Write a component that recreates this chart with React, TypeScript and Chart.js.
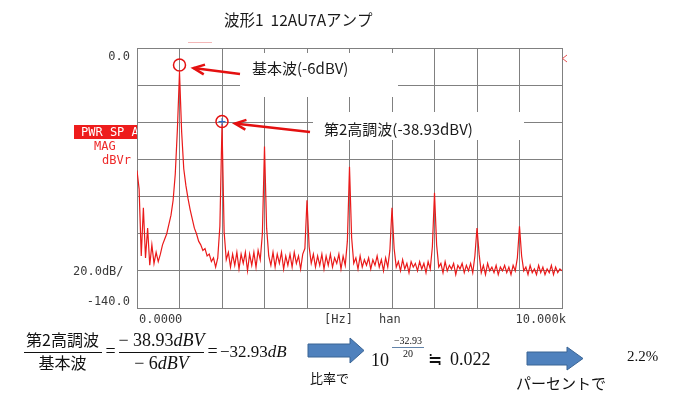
import React, { useEffect, useRef } from 'react';
import { Chart, registerables } from 'chart.js';

Chart.register(...registerables);

// ---- data ----
const binHz = 50; // spectrum bin spacing (Hz)
const levelsDb = [
  -66, -76, -112, -86, -113, -97, -117, -106, -116, -110,
  -115, -111, -106, -103, -100, -95, -90, -82, -68, -44,
  -13, -45, -65, -74, -81, -87, -92, -97, -100, -104,
  -106, -109, -108, -112, -111, -115, -113, -118, -113, -96,
  -41, -99, -114, -110, -118, -111, -117, -110, -119, -111,
  -116, -110, -120, -111, -117, -110, -118, -109, -114, -100,
  -53, -97, -112, -117, -110, -118, -111, -116, -110, -119,
  -112, -117, -111, -118, -110, -116, -112, -119, -111, -108,
  -82, -107, -116, -111, -118, -112, -117, -111, -119, -112,
  -117, -111, -118, -113, -116, -111, -119, -112, -117, -104,
  -64, -102, -116, -113, -119, -112, -118, -114, -117, -113,
  -119, -114, -117, -112, -118, -114, -120, -113, -118, -109,
  -86, -108, -118, -115, -120, -114, -119, -116, -121, -115,
  -118, -116, -120, -115, -119, -116, -121, -115, -119, -107,
  -78, -106, -118, -116, -121, -115, -120, -117, -119, -116,
  -122, -117, -119, -116, -121, -117, -120, -116, -121, -112,
  -97, -111, -121, -117, -122, -116, -120, -118, -121, -117,
  -122, -118, -120, -117, -121, -118, -122, -117, -120, -113,
  -96, -112, -120, -118, -122, -117, -121, -119, -122, -117,
  -121, -118, -122, -119, -121, -117, -122, -118, -121, -119,
  -120,
];
const freqMinHz = 0;
const freqMaxHz = 10000;
const freqStepHz = 1000;
const dbMin = -140;
const dbMax = 0;
const dbStep = 20;

const titleText = '波形1  12AU7Aアンプ';
const yLabelTop = '0.0';
const yLabelScale = '20.0dB/';
const yLabelBottom = '-140.0';
const xLabels = ['0.0000', '[Hz]', 'han', '10.000k'];
const modeLabels = ['PWR SP A', 'MAG', 'dBVr'];

const markerFreqHz = [1000, 2000];
const markerCircleDb = [-9.2, -39.6];
const markerTexts = ['基本波(-6dBV)', '第2高調波(-38.93dBV)'];

const MONO = '12px "DejaVu Sans Mono", monospace';
const JP = '"Noto Sans CJK JP", sans-serif';
const SERIF = '"Liberation Serif", "Times New Roman", serif';

type Run = { t: string; f: string };

function runsWidth(ctx: CanvasRenderingContext2D, runs: Run[]) {
  let w = 0;
  for (const r of runs) {
    ctx.font = r.f;
    w += ctx.measureText(r.t).width;
  }
  return w;
}

function drawRuns(ctx: CanvasRenderingContext2D, runs: Run[], x: number, y: number, center: boolean) {
  let cx = center ? x - runsWidth(ctx, runs) / 2 : x;
  ctx.textAlign = 'left';
  for (const r of runs) {
    ctx.font = r.f;
    ctx.fillText(r.t, cx, y);
    cx += ctx.measureText(r.t).width;
  }
}

function redArrow(ctx: CanvasRenderingContext2D, x1: number, y1: number, x2: number, y2: number) {
  ctx.beginPath();
  ctx.moveTo(x1, y1);
  ctx.lineTo(x2, y2);
  ctx.stroke();
  const a = Math.atan2(y2 - y1, x2 - x1);
  const L = 12;
  const w = 0.42;
  ctx.beginPath();
  ctx.moveTo(x2 - L * Math.cos(a - w), y2 - L * Math.sin(a - w));
  ctx.lineTo(x2, y2);
  ctx.lineTo(x2 - L * Math.cos(a + w), y2 - L * Math.sin(a + w));
  ctx.stroke();
}

function blockArrow(ctx: CanvasRenderingContext2D, x0: number, x1: number, xe: number, sy0: number, sy1: number, hy0: number, hy1: number) {
  ctx.beginPath();
  ctx.moveTo(x0, sy0);
  ctx.lineTo(x1, sy0);
  ctx.lineTo(x1, hy0);
  ctx.lineTo(xe, (hy0 + hy1) / 2);
  ctx.lineTo(x1, hy1);
  ctx.lineTo(x1, sy1);
  ctx.lineTo(x0, sy1);
  ctx.closePath();
  ctx.fillStyle = '#4f81bd';
  ctx.fill();
  ctx.strokeStyle = '#3a6494';
  ctx.lineWidth = 1;
  ctx.stroke();
}

const overlayPlugin = {
  id: 'overlay',
  beforeDatasetsDraw(chart: any) {
    const ctx: CanvasRenderingContext2D = chart.ctx;
    ctx.save();
    ctx.fillStyle = '#ffffff';
    ctx.fillRect(240, 53, 158, 44);
    ctx.fillRect(313, 112, 211, 28);
    ctx.restore();
  },
  afterDraw(chart: any) {
    const ctx: CanvasRenderingContext2D = chart.ctx;
    const xs = chart.scales.x;
    const ys = chart.scales.y;
    const ca = chart.chartArea;
    ctx.save();

    // title
    ctx.fillStyle = '#1a1a1a';
    ctx.textBaseline = 'alphabetic';
    ctx.textAlign = 'left';
    ctx.font = '15.5px ' + JP;
    ctx.fillText(titleText, 224, 26);

    // faint marks at top
    ctx.strokeStyle = '#f4b8b8';
    ctx.lineWidth = 1;
    ctx.beginPath();
    ctx.moveTo(188, 42.5);
    ctx.lineTo(212, 42.5);
    ctx.stroke();
    ctx.strokeStyle = '#e85050';
    ctx.beginPath();
    ctx.moveTo(567, 55);
    ctx.lineTo(562.5, 58.5);
    ctx.lineTo(567, 62);
    ctx.stroke();

    // analyzer labels
    ctx.font = MONO;
    ctx.fillStyle = '#3a3a3a';
    ctx.textBaseline = 'middle';
    ctx.textAlign = 'right';
    ctx.fillText(yLabelTop, 130, 56.5);
    ctx.fillText(yLabelBottom, 130, 302);
    ctx.textAlign = 'left';
    ctx.fillText(yLabelScale, 73, 272);
    ctx.fillText(xLabels[0], ca.left + 2, 320);
    ctx.fillText(xLabels[1], 324, 320);
    ctx.fillText(xLabels[2], 379, 320);
    ctx.textAlign = 'right';
    ctx.fillText(xLabels[3], 566, 320);

    ctx.fillStyle = '#ee1c1c';
    ctx.fillRect(74, 125, ca.left - 74, 14);
    ctx.save();
    ctx.beginPath();
    ctx.rect(74, 120, ca.left - 74, 20);
    ctx.clip();
    ctx.fillStyle = '#ffffff';
    ctx.textAlign = 'left';
    ctx.fillText(modeLabels[0], 81, 132.5);
    ctx.restore();
    ctx.fillStyle = '#ee2a2a';
    ctx.textAlign = 'left';
    ctx.fillText(modeLabels[1], 94, 146.5);
    ctx.fillText(modeLabels[2], 102, 160.5);

    // markers
    ctx.strokeStyle = '#e41010';
    ctx.lineWidth = 1.5;
    const cx: number[] = [];
    const cy: number[] = [];
    for (let i = 0; i < markerFreqHz.length; i++) {
      const px = xs.getPixelForValue(markerFreqHz[i]);
      const py = ys.getPixelForValue(markerCircleDb[i]);
      cx.push(px);
      cy.push(py);
      ctx.beginPath();
      ctx.arc(px, py, 6, 0, Math.PI * 2);
      ctx.stroke();
    }
    ctx.strokeStyle = '#2f66c8';
    ctx.lineWidth = 1;
    ctx.beginPath();
    ctx.moveTo(cx[1] - 3.5, cy[1]);
    ctx.lineTo(cx[1] + 3.5, cy[1]);
    ctx.moveTo(cx[1], cy[1] - 3.5);
    ctx.lineTo(cx[1], cy[1] + 3.5);
    ctx.stroke();

    ctx.strokeStyle = '#e41010';
    ctx.lineWidth = 2.5;
    ctx.lineCap = 'butt';
    ctx.lineJoin = 'miter';
    redArrow(ctx, 240, 74, cx[0] + 14, cy[0] + 3);
    redArrow(ctx, 310, 132, cx[1] + 13, cy[1] + 2);

    ctx.fillStyle = '#1a1a1a';
    ctx.textBaseline = 'alphabetic';
    ctx.textAlign = 'left';
    ctx.font = '15px ' + JP;
    ctx.fillText(markerTexts[0], 252, 74);
    ctx.fillText(markerTexts[1], 324, 135);

    // formula row
    ctx.fillStyle = '#111111';
    ctx.strokeStyle = '#111111';
    ctx.lineWidth = 1;
    ctx.font = '16px ' + JP;
    ctx.textAlign = 'center';
    ctx.fillText('第2高調波', 62.5, 346);
    ctx.fillText('基本波', 62.5, 369);
    ctx.beginPath();
    ctx.moveTo(24, 352.5);
    ctx.lineTo(102, 352.5);
    ctx.moveTo(119, 352.5);
    ctx.lineTo(204, 352.5);
    ctx.stroke();

    const s18 = '18px ' + SERIF;
    const i18 = 'italic 18px ' + SERIF;
    ctx.font = s18;
    ctx.fillText('=', 110.5, 357);
    ctx.fillText('=', 212.5, 357);
    drawRuns(ctx, [{ t: '− 38.93', f: s18 }, { t: 'dBV', f: i18 }], 161.5, 346, true);
    drawRuns(ctx, [{ t: '− 6', f: s18 }, { t: 'dBV', f: i18 }], 161.5, 369, true);
    drawRuns(ctx, [{ t: '−32.93', f: '17px ' + SERIF }, { t: 'dB', f: 'italic 17px ' + SERIF }], 220, 357, false);

    blockArrow(ctx, 308, 350, 364, 344, 357, 338, 363);
    blockArrow(ctx, 527, 567, 583, 352, 365, 347, 370);

    ctx.fillStyle = '#111111';
    ctx.textAlign = 'left';
    ctx.font = '13px ' + JP;
    ctx.fillText('比率で', 310, 383);
    ctx.font = '15px ' + JP;
    ctx.fillText('パーセントで', 516, 389);

    ctx.font = '18px ' + SERIF;
    ctx.fillText('10', 371, 366);
    ctx.textAlign = 'center';
    ctx.font = '10px ' + SERIF;
    ctx.fillText('−32.93', 408, 344);
    ctx.fillText('20', 408, 357);
    ctx.beginPath();
    ctx.lineWidth = 0.8;
    ctx.moveTo(392, 347.5);
    ctx.lineTo(424, 347.5);
    ctx.stroke();
    ctx.font = '17px ' + SERIF;
    ctx.fillText('≒', 435, 365);
    ctx.textAlign = 'left';
    ctx.font = '18px ' + SERIF;
    ctx.fillText('0.022', 450, 365);
    ctx.font = '15px ' + SERIF;
    ctx.fillText('2.2%', 627, 361);

    ctx.restore();
  },
};

export default function App() {
  const canvasRef = useRef<HTMLCanvasElement | null>(null);

  useEffect(() => {
    const canvas = canvasRef.current;
    if (!canvas) return;
    const points = levelsDb.map((v, i) => ({ x: i * binHz, y: v }));
    const gridStyle = { color: '#808080', lineWidth: 1, drawTicks: false };
    const chart = new Chart(canvas, {
      type: 'line',
      data: {
        datasets: [
          {
            data: points,
            borderColor: '#ea1a1a',
            borderWidth: 1.2,
            pointRadius: 0,
            tension: 0,
            fill: false,
          },
        ],
      },
      options: {
        responsive: false,
        animation: false,
        events: [],
        layout: { padding: { left: 137, top: 48, right: 120, bottom: 89 } },
        plugins: {
          legend: { display: false },
          tooltip: { enabled: false },
          title: { display: false },
        },
        scales: {
          x: {
            type: 'linear',
            min: freqMinHz,
            max: freqMaxHz,
            ticks: { display: false, stepSize: freqStepHz },
            grid: gridStyle,
            border: { display: true, color: '#808080' },
          },
          y: {
            type: 'linear',
            min: dbMin,
            max: dbMax,
            ticks: { display: false, stepSize: dbStep },
            grid: gridStyle,
            border: { display: true, color: '#808080' },
          },
        },
      },
      plugins: [overlayPlugin],
    } as any);
    return () => chart.destroy();
  }, []);

  return (
    <div style={{ position: 'fixed', left: 0, top: 0, width: 682, height: 397, background: '#ffffff' }}>
      <canvas ref={canvasRef} width={682} height={397} style={{ display: 'block' }} />
    </div>
  );
}
